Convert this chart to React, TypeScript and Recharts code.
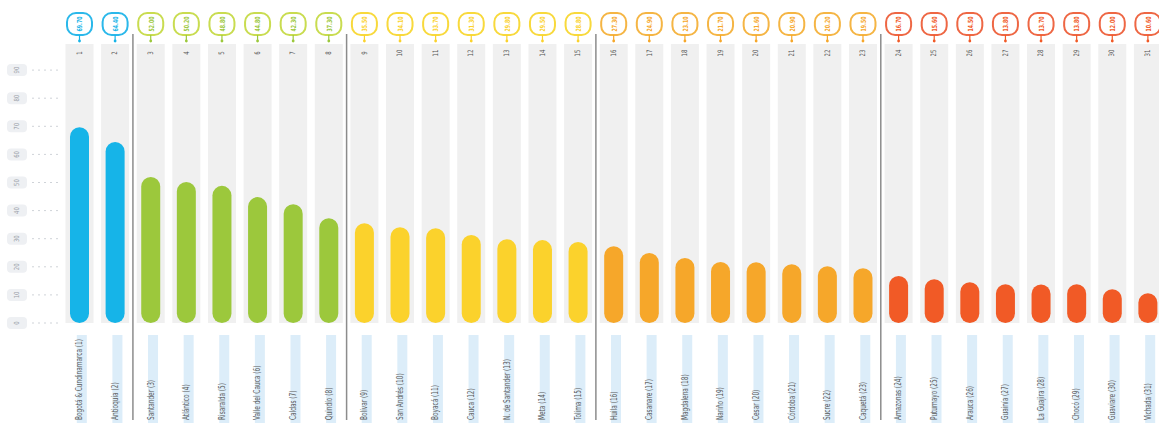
import { BarChart, Bar, XAxis, YAxis, Cell } from 'recharts';

const departments = [
  'Bogotá & Cundinamarca (1)', 'Antioquia (2)', 'Santander (3)', 'Atlántico (4)', 'Risaralda (5)',
  'Valle del Cauca (6)', 'Caldas (7)', 'Quindío (8)', 'Bolívar (9)', 'San Andrés (10)',
  'Boyacá (11)', 'Cauca (12)', 'N. de Santander (13)', 'Meta (14)', 'Tolima (15)',
  'Huila (16)', 'Casanare (17)', 'Magdalena (18)', 'Nariño (19)', 'Cesar (20)',
  'Córdoba (21)', 'Sucre (22)', 'Caquetá (23)', 'Amazonas (24)', 'Putumayo (25)',
  'Arauca (26)', 'Guainía (27)', 'La Guajira (28)', 'Chocó (29)', 'Guaviare (30)', 'Vichada (31)',
];

const scores = [
  69.7, 64.4, 52.0, 50.2, 48.8, 44.8, 42.3, 37.3, 35.5, 34.1, 33.7, 31.3, 29.8, 29.5, 28.8,
  27.3, 24.9, 23.1, 21.7, 21.6, 20.9, 20.2, 19.5, 16.7, 15.6, 14.5, 13.8, 13.7, 13.8, 12.0, 10.6,
];

// tier of each department (0..4), drives the colour
const tiers = [
  0, 0, 1, 1, 1, 1, 1, 1, 2, 2, 2, 2, 2, 2, 2,
  3, 3, 3, 3, 3, 3, 3, 3, 4, 4, 4, 4, 4, 4, 4, 4,
];

const yTicks = [0, 10, 20, 30, 40, 50, 60, 70, 80, 90];

const barColors = ['#16b4e8', '#9cc83c', '#fbd22c', '#f6a72a', '#f15a26'];
const badgeColors = ['#2bb8ea', '#c9dc50', '#f8d93c', '#f5b544', '#ee6744'];

const FONT = '"DejaVu Sans Condensed", "Liberation Sans", sans-serif';
const CHART_W = 1166;
const CHART_H = 426;
const Y_AXIS_W = 62;
const BAND = (CHART_W - Y_AXIS_W) / departments.length;

const data = departments.map((name, i) => ({
  name,
  rank: i + 1,
  score: scores[i],
  tier: tiers[i],
}));

// vertical, squeezed text (reads bottom to top)
function UpText({ x, y, anchor, size, fill, squeeze = 0.7, weight = 400, children }: any) {
  return (
    <g transform={`translate(${x} ${y}) rotate(-90) scale(${squeeze} 1)`}>
      <text x={0} y={0} textAnchor={anchor} dominantBaseline="central"
        fontSize={size} fontWeight={weight} fill={fill} fontFamily={FONT}>
        {children}
      </text>
    </g>
  );
}

function ColumnBackground(props: any) {
  const { x, y, width, height, index } = props;
  const d = data[index];
  if (!d) return null;
  const cx = x + width / 2;
  const col = badgeColors[d.tier];
  const newGroup = index > 0 && tiers[index - 1] !== d.tier;
  return (
    <g>
      <rect x={cx - 14} y={y + 2} width={28} height={height - 2} fill="#f0f0f0" />
      <rect x={cx - 12.5} y={y - 29} width={25} height={22} rx={9} ry={9}
        fill="#fff" stroke={col} strokeWidth={2} />
      <UpText x={cx} y={y - 18} anchor="middle" size={7} weight={700} fill={barColors[d.tier]} squeeze={0.75}>
        {d.score.toFixed(2)}
      </UpText>
      <line x1={cx} y1={y - 7} x2={cx} y2={y - 1} stroke={barColors[d.tier]} strokeWidth={1.2} />
      <circle cx={cx} cy={y - 1} r={1.4} fill={barColors[d.tier]} />
      <UpText x={cx} y={y + 11} anchor="middle" size={7.5} fill="#555" squeeze={0.8}>
        {d.rank}
      </UpText>
      {newGroup && (
        <line x1={cx - BAND / 2} y1={y - 8} x2={cx - BAND / 2} y2={y + height + 97}
          stroke="#8c8c8c" strokeWidth={1.5} />
      )}
    </g>
  );
}

function NameTick(props: any) {
  const { x, y, payload } = props;
  return (
    <g>
      <rect x={x - 3} y={y + 12} width={10} height={88} fill="#dcedf9" />
      <UpText x={x - 1} y={y + 97} anchor="start" size={9.5} fill="#5a5a5a" squeeze={0.68}>
        {payload.value}
      </UpText>
    </g>
  );
}

function ScoreTick(props: any) {
  const { x, y, payload } = props;
  return (
    <g>
      <rect x={x - 55} y={y - 6} width={20} height={12} rx={4} fill="#eef0f3" />
      <UpText x={x - 45} y={y} anchor="middle" size={7} fill="#9aa0a8" squeeze={0.85}>
        {payload.value}
      </UpText>
      <line x1={x - 30} y1={y} x2={x - 2} y2={y} stroke="#cfd3d8" strokeDasharray="2 4" />
    </g>
  );
}

export default function App() {
  return (
    <div style={{ position: 'absolute', left: 0, top: 0, width: 1159, height: CHART_H, overflow: 'hidden', background: '#fff' }}>
      <style>{'body{margin:0}'}</style>
      <BarChart width={CHART_W} height={CHART_H} data={data}
        margin={{ top: 42, right: 0, bottom: 0, left: 0 }} barCategoryGap={0}>
        <XAxis dataKey="name" interval={0} height={103} tickSize={0} tickMargin={0}
          axisLine={false} tickLine={false} tick={<NameTick />} />
        <YAxis domain={[0, 100]} ticks={yTicks} width={Y_AXIS_W} tickSize={0} tickMargin={0}
          axisLine={false} tickLine={false} tick={<ScoreTick />} />
        <Bar dataKey="score" barSize={19} radius={9.5} isAnimationActive={false}
          background={(p: any) => <ColumnBackground {...p} />}>
          {data.map((d) => (
            <Cell key={d.rank} fill={barColors[d.tier]} />
          ))}
        </Bar>
      </BarChart>
    </div>
  );
}
